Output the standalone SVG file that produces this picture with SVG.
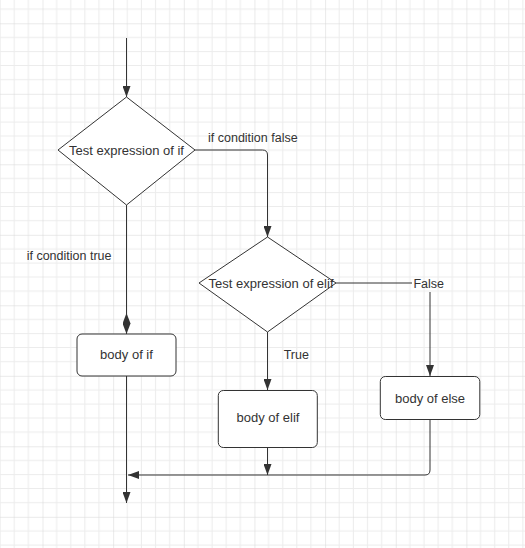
<svg xmlns="http://www.w3.org/2000/svg" width="525" height="548" viewBox="0 0 525 548">
<defs>
<pattern id="grid" patternUnits="userSpaceOnUse" x="42.5" y="23.3" width="70.65" height="70.5">
<g stroke="#ececec" stroke-width="1" fill="none">
<path d="M14.13,0V70.5M28.26,0V70.5M42.39,0V70.5M56.52,0V70.5M0,14.1H70.65M0,28.2H70.65M0,42.3H70.65M0,56.4H70.65"/>
</g>
<g stroke="#d6d6d6" stroke-width="1" fill="none">
<path d="M0,0V70.5M0,0H70.65"/>
</g>
</pattern>
<marker id="arrow" viewBox="0 0 11 8" refX="11" refY="4" markerWidth="11" markerHeight="8" markerUnits="userSpaceOnUse" orient="auto">
<path d="M0,0L11,4L0,8Z" fill="#333"/>
</marker>
<marker id="dia" viewBox="0 0 21 8" refX="21" refY="4" markerWidth="21" markerHeight="8" markerUnits="userSpaceOnUse" orient="auto">
<path d="M0,4L10.5,0L21,4L10.5,8Z" fill="#333"/>
</marker>
</defs>
<style>
.shape{fill:#fff;stroke:#333;stroke-width:1;stroke-linejoin:round}
.t{font-family:"Liberation Sans",Arial,sans-serif;font-size:12.5px;fill:#333}
.n{font-size:13px}
.c{text-anchor:middle}
.edge{fill:none;stroke:#333;stroke-width:1}
</style>
<rect x="0" y="0" width="525" height="548" fill="#fff"/>
<rect x="0" y="0" width="525" height="548" fill="url(#grid)"/>
<g id="connectors">
<path class="edge" d="M126.5,38V97" marker-end="url(#arrow)"/>
<path class="edge" d="M195,150H262.5Q267.5,150 267.5,155V237" marker-end="url(#arrow)"/>
<path class="edge" d="M126.5,205V334" marker-end="url(#dia)"/>
<path class="edge" d="M267.5,332V390" marker-end="url(#arrow)"/>
<path class="edge" d="M336,283H412M430,292V376" marker-end="url(#arrow)"/>
<path class="edge" d="M126.5,376V503" marker-end="url(#arrow)"/>
<path class="edge" d="M267.5,447V475" marker-end="url(#arrow)"/>
<path class="edge" d="M430,419V470Q430,475 425,475H128" marker-end="url(#arrow)"/>
<text class="t" x="208" y="141.5">if condition false</text>
<text class="t" x="26.7" y="259.5">if condition true</text>
<text class="t" x="283.7" y="358.5">True</text>
<text class="t c" x="428.7" y="287.5">False</text>
</g>
<g id="test-if">
<path class="shape" d="M126.5,97L195,150L126.5,205L58,150Z"/>
<text class="t n c" x="126.5" y="154.5">Test expression of if</text>
</g>
<g id="test-elif">
<path class="shape" d="M267.5,237L336,283L267.5,332L199,283Z"/>
<text class="t n c" x="271" y="287.5">Test expression of elif</text>
</g>
<g id="body-if">
<rect class="shape" x="77" y="334" width="99" height="42" rx="5"/>
<text class="t n c" x="126.5" y="358.5">body of if</text>
</g>
<g id="body-elif">
<rect class="shape" x="218.3" y="390.5" width="99" height="57" rx="5"/>
<text class="t n c" x="268" y="421.5">body of elif</text>
</g>
<g id="body-else">
<rect class="shape" x="380.3" y="376.5" width="99.5" height="43" rx="5"/>
<text class="t n c" x="430" y="402.5">body of else</text>
</g>
</svg>
